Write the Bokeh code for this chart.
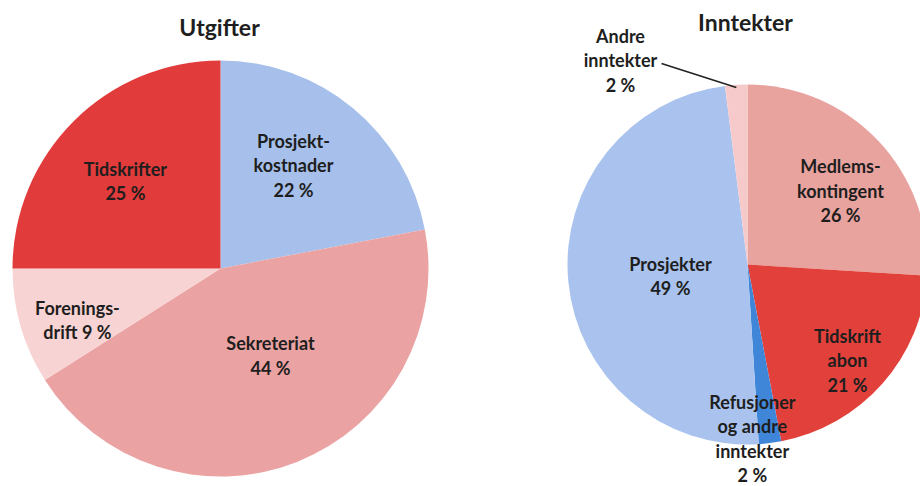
import math
from bokeh.plotting import figure
from bokeh.models import Range1d, ColumnDataSource
from bokeh.core.properties import value
from bokeh.embed import file_html
from bokeh.resources import INLINE

# ---- data ----
exp_title = "Utgifter"
exp_labels = ["Prosjekt-\nkostnader", "Sekreteriat", "Forenings-\ndrift", "Tidskrifter"]
exp_values = [22, 44, 9, 25]
exp_pct_inline = [False, False, True, False]

inc_title = "Inntekter"
inc_labels = ["Medlems-\nkontingent", "Tidskrift\nabon", "Refusjoner\nog andre\ninntekter", "Prosjekter", "Andre\ninntekter"]
inc_values = [26, 21, 2, 49, 2]

# ---- styles / layout ----
exp_colors = ["#A7C0EB", "#EAA3A2", "#F8D3D3", "#E23B3B"]
inc_colors = ["#E9A39E", "#E2413B", "#3F86D8", "#A9C3EE", "#F6CACA"]
exp_label_frac = [0.607, 0.482, 0.731, 0.621]
exp_label_turn = [-4.3, -8.3, -3.6, -2.4]
inc_label_frac = [0.66, 0.77, 0.968, 0.433, 1.335]
inc_label_turn = [4.7, 2.4, 5.6, -3.1, -28.3]

W, H = 920, 486
FONT = "Lato"
TXT = "#1e1e1e"
LABEL_SIZE = "18px"
SPACING = 24.5

p = figure(width=W, height=H, x_range=Range1d(0, W), y_range=Range1d(0, H),
           output_backend="svg", toolbar_location=None,
           x_axis_type=None, y_axis_type=None, min_border=0)
p.grid.visible = False
p.outline_line_color = None
p.background_fill_color = "white"
p.border_fill_color = "white"


def draw_pie(cx, cy, r, values, colors, labels, fracs, turns, pct_inline, spacing):
    total = float(sum(values))
    starts, ends, mids = [], [], []
    acc = 0.0
    for v in values:
        a0 = acc / total * 360.0
        acc += v
        a1 = acc / total * 360.0
        starts.append(a0)
        ends.append(a1)
        mids.append((a0 + a1) / 2)
    src = ColumnDataSource(dict(
        start=[math.radians(90 - a) for a in starts],
        end=[math.radians(90 - a) for a in ends],
        color=colors))
    p.wedge(x=cx, y=cy, radius=r, start_angle="start", end_angle="end",
            direction="clock", fill_color="color", line_color=None, source=src)
    anchors = []
    for i, lab in enumerate(labels):
        ang = math.radians(mids[i] + turns[i])
        lx = cx + fracs[i] * r * math.sin(ang)
        ly = cy + fracs[i] * r * math.cos(ang)
        pct = f"{values[i]} %"
        lines = lab.split("\n")
        if pct_inline[i]:
            lines[-1] = lines[-1] + " " + pct
        else:
            lines.append(pct)
        n = len(lines)
        xs, ys = [], []
        for k in range(n):
            xs.append(lx)
            ys.append(ly + (n - 1) / 2 * spacing - k * spacing)
        p.text(x=xs, y=ys, text=lines, text_font=value(FONT), text_font_style="bold",
               text_font_size=LABEL_SIZE, text_color=TXT, text_align="center",
               text_baseline="middle")
        anchors.append((lx, ys, mids[i]))
    return anchors


ecx, ecy, er = 220, 218, 208
draw_pie(ecx, ecy, er, exp_values, exp_colors, exp_labels, exp_label_frac,
         exp_label_turn, exp_pct_inline, SPACING)

icx, icy, ir = 747, 222, 180
anc = draw_pie(icx, icy, ir, inc_values, inc_colors, inc_labels, inc_label_frac,
               inc_label_turn, [False] * len(inc_values), SPACING)

# leader line for the small "Andre inntekter" slice
lx, ys, mid = anc[-1]
tip_ang = math.radians(mid)
tip_x = icx + ir * 0.985 * math.sin(tip_ang)
tip_y = icy + ir * 0.985 * math.cos(tip_ang)
p.line(x=[lx + 41, tip_x], y=[ys[1] - 3, tip_y], line_color="#222222", line_width=1.6)

# titles
p.text(x=[219], y=[H - 26], text=[exp_title], text_font=value(FONT),
       text_font_style="bold", text_font_size="23px", text_color=TXT,
       text_align="center", text_baseline="middle")
p.text(x=[745], y=[H - 21], text=[inc_title], text_font=value(FONT),
       text_font_style="bold", text_font_size="23px", text_color=TXT,
       text_align="center", text_baseline="middle")

open("out.html", "w").write(file_html(p, INLINE))
